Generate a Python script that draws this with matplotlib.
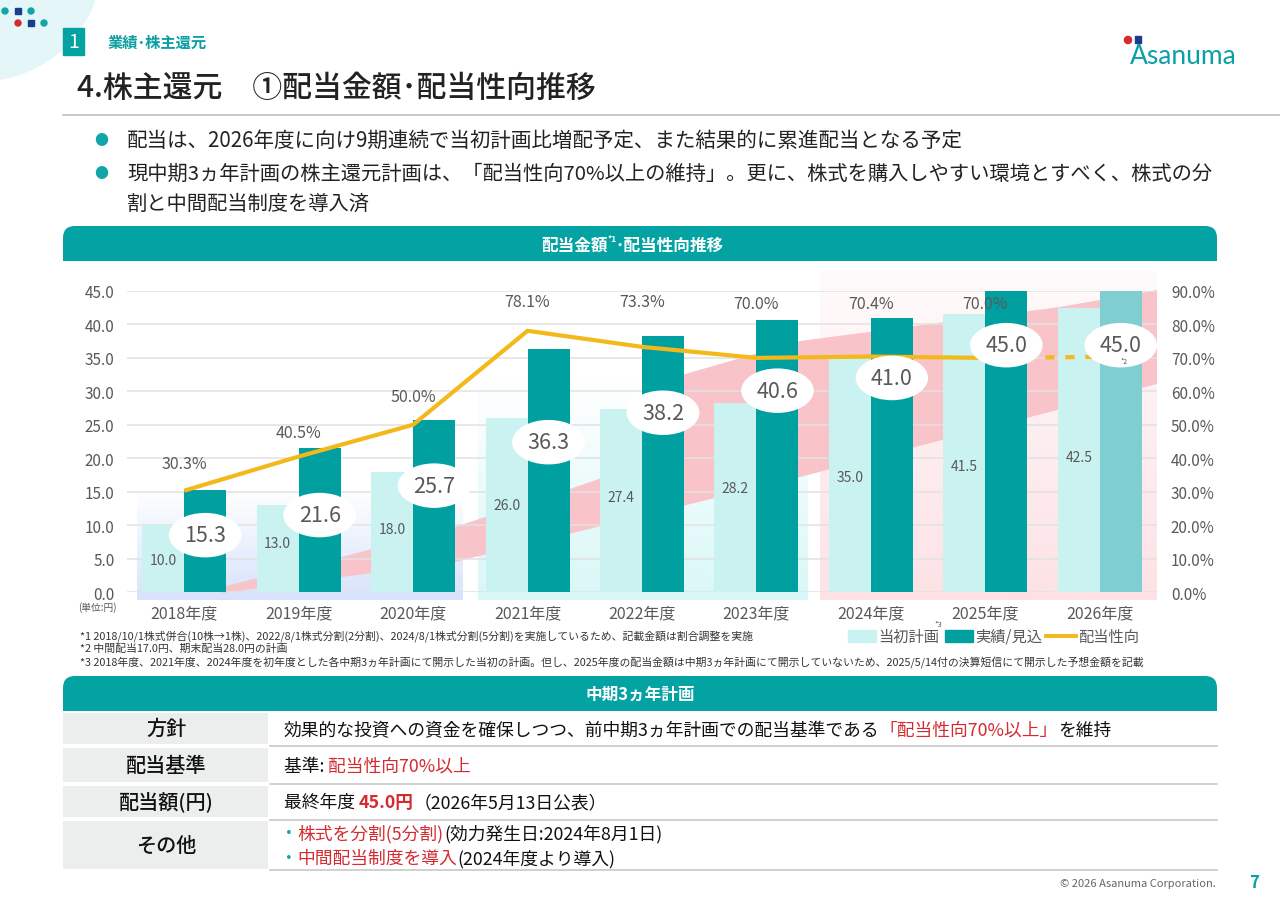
import matplotlib
matplotlib.use("Agg")
import matplotlib.pyplot as plt
import numpy as np
from matplotlib.patches import Rectangle, FancyBboxPatch, Circle, Polygon

plt.rcParams['font.family'] = ['Noto Sans CJK JP', 'DejaVu Sans']

# ---------------- data ----------------
years = ['2018年度', '2019年度', '2020年度', '2021年度', '2022年度',
         '2023年度', '2024年度', '2025年度', '2026年度']
plan = [10.0, 13.0, 18.0, 26.0, 27.4, 28.2, 35.0, 41.5, 42.5]
actual = [15.3, 21.6, 25.7, 36.3, 38.2, 40.6, 41.0, 45.0, 45.0]
payout = [30.3, 40.5, 50.0, 78.1, 73.3, 70.0, 70.4, 70.0, 70.3]
payout_labels = ['30.3%', '40.5%', '50.0%', '78.1%', '73.3%', '70.0%', '70.4%', '70.0%']
left_ticks = [0, 5, 10, 15, 20, 25, 30, 35, 40, 45]
right_ticks = [0, 10, 20, 30, 40, 50, 60, 70, 80, 90]
legend_labels = ['当初計画', '実績/見込', '配当性向']

# layout (label heights, not data)
actual_label_y = [8.5, 11.5, 15.9, 22.4, 26.8, 30.1, 32.0, 36.9, 36.9]
plan_label_y = [4.8, 7.3, 9.4, 13.0, 14.2, 15.5, 17.2, 18.8, 20.2]
payout_label_y = [38.3, 47.8, 58.6, 87.0, 87.0, 86.4, 86.4, 86.4]

TEAL = '#00a0a0'
LIGHT = '#c9f2f0'
TEAL26 = '#7fcfd2'
GOLD = '#f3b91b'
RED = '#d42a30'
GRAY = '#595959'
BAND = '#03a2a3'

fig = plt.figure(figsize=(12.8, 9.04), dpi=100)
bg = fig.add_axes([0, 0, 1, 1])
bg.set_zorder(0)
bg.axis('off')


def vgrad(x0, x1, ytop, ybot, rgb, a_top, a_bot, z=1):
    n = 200
    arr = np.zeros((n, 1, 4))
    arr[..., :3] = np.array(rgb) / 255.0
    arr[:, 0, 3] = np.linspace(a_top, a_bot, n)
    bg.imshow(arr, extent=(x0, x1, ybot, ytop), aspect='auto', zorder=z,
              interpolation='bilinear')


# ---------- header decorations ----------
bg.add_patch(Circle((-20, -40), 122, color='#e4f6f7', zorder=1))
for (cx, cy, c, sq) in [(5, 12, '#10a6a8', False), (18, 12, '#1b3d8f', True), (31, 12, '#10a6a8', False),
                        (18, 24, '#d42a30', False), (31, 24, '#1b3d8f', True), (44, 24, '#10a6a8', False)]:
    if sq:
        bg.add_patch(Rectangle((cx - 2.8, cy - 2.8), 5.6, 5.6, color=c, zorder=2))
    else:
        bg.add_patch(Circle((cx, cy), 3, color=c, zorder=2))

bg.add_patch(Rectangle((63, 29), 21, 27, color=BAND, zorder=2))
bg.text(73.5, 43, '1', color='white', fontsize=14, ha='center', va='center', zorder=3)
bg.text(108, 43, '業績･株主還元', color='#0a9fa2', fontsize=11, ha='left', va='center',
        weight='bold', zorder=3)
bg.text(77, 88, '4.株主還元　①配当金額･配当性向推移', color='#222222', fontsize=21.5,
        ha='left', va='center', weight='medium', zorder=3)
bg.plot([63, 1280], [116, 116], color='#c0c0c0', lw=1.2, zorder=2)

# logo
bg.add_patch(Circle((1128, 41), 3.6, color='#d42a30', zorder=3))
bg.add_patch(Rectangle((1134.5, 37), 6.5, 6.5, color='#1b3d8f', zorder=3))
bg.text(1183, 57, 'Asanuma', color='#0aa0a6', fontsize=19, ha='center', va='center',
        family=['Lato', 'DejaVu Sans'], zorder=3)

# bullets
for yy in (141, 174):
    bg.text(101, yy, '●', color='#10a6a8', fontsize=10, ha='center', va='center', zorder=3)
bg.text(127, 141, '配当は、2026年度に向け9期連続で当初計画比増配予定、また結果的に累進配当となる予定',
        fontsize=14.8, color='#222222', ha='left', va='center', zorder=3)
bg.text(127, 174, '現中期3ヵ年計画の株主還元計画は、「配当性向70%以上の維持」。更に、株式を購入しやすい環境とすべく、株式の分',
        fontsize=14.6, color='#222222', ha='left', va='center', zorder=3)
bg.text(127, 204, '割と中間配当制度を導入済', fontsize=14.6, color='#222222', ha='left', va='center', zorder=3)


def band(y0, h):
    bg.add_patch(FancyBboxPatch((63, y0), 1154, h, boxstyle='round,pad=0,rounding_size=12',
                                color=BAND, zorder=2, lw=0))
    bg.add_patch(Rectangle((63, y0 + h / 2), 1154, h / 2, color=BAND, zorder=2, lw=0))


band(227, 35)
t = bg.text(541, 246, '配当金額', color='white', fontsize=12, weight='bold', ha='left',
            va='center', zorder=3)
bg.annotate('*1', xy=(1, 0.62), xycoords=t, color='white', fontsize=6, weight='bold',
            ha='left', va='bottom', zorder=3)
bg.annotate('･配当性向推移', xy=(1, 0.5), xycoords=t, xytext=(6, 0), textcoords='offset points',
            color='white', fontsize=12, weight='bold', ha='left', va='center', zorder=3)

# ---------- chart background panels ----------
vgrad(137, 463, 490, 601, (205, 220, 250), 0.0, 0.8, z=1)
vgrad(478, 808, 380, 601, (215, 247, 247), 0.0, 0.95, z=1)
vgrad(820, 1157, 272, 601, (253, 224, 228), 0.15, 0.95, z=1)
arrow = Polygon([(222, 588), (342, 558), (455, 528), (570, 490), (680, 452), (682, 376),
                 (800, 342), (1060, 308), (1157, 291), (1157, 385), (800, 478), (455, 563),
                 (222, 594)], closed=True, color='#f8c3c9', lw=0, zorder=1.5)
bg.add_patch(arrow)

bg.set_xlim(0, 1280)
bg.set_ylim(904, 0)

# ---------- chart ----------
ax = fig.add_axes([127 / 1280, (904 - 593) / 904, 1030 / 1280, 301 / 904])
ax.set_zorder(1)
ax.patch.set_visible(False)
x = np.arange(len(years))
w = 0.367
ax.bar(x - w / 2, plan, w, color=LIGHT, zorder=2, lw=0)
dark_colors = [TEAL] * (len(years) - 1) + [TEAL26]
ax.bar(x + w / 2, actual, w, color=dark_colors, zorder=2, lw=0)
ax.set_xlim(-0.5, len(years) - 0.5)
ax.set_ylim(0, 45)
ax.set_yticks(left_ticks)
ax.set_yticklabels([f'{v:.1f}' for v in left_ticks], fontsize=11, color=GRAY)
ax.set_xticks(x)
ax.set_xticklabels(years, fontsize=11.5, color=GRAY)
ax.tick_params(axis='both', length=0)
ax.tick_params(axis='y', pad=9)
ax.tick_params(axis='x', pad=9)
ax.grid(axis='y', color='#e2e2e2', lw=1.1)
ax.set_axisbelow(True)
for s in ax.spines.values():
    s.set_visible(False)

for i, v in enumerate(plan):
    ax.text(x[i] - w / 2, plan_label_y[i], f'{v:.1f}', fontsize=10, color=GRAY,
            ha='center', va='center', zorder=4)

ax2 = ax.twinx()
ax2.set_zorder(2)
ax2.patch.set_visible(False)
ax2.set_ylim(0, 90)
ax2.set_yticks(right_ticks)
ax2.set_yticklabels([f'{v:.1f}%' for v in right_ticks], fontsize=11, color=GRAY)
ax2.tick_params(axis='y', length=0, pad=10)
for s in ax2.spines.values():
    s.set_visible(False)

ax2.plot(x[:8], payout[:8], color=GOLD, lw=3.0, zorder=2, solid_capstyle='butt')
ax2.plot(x[7:], payout[7:], color=GOLD, lw=3.0, ls=(0, (2.2, 2.6)), zorder=2)

for i, lab in enumerate(payout_labels):
    ax2.text(x[i], payout_label_y[i], lab, fontsize=11.5, color=GRAY, ha='center',
             va='center', zorder=6)

for i, v in enumerate(actual):
    ax2.text(x[i] + w / 2, actual_label_y[i], f'{v:.1f}', transform=ax.transData,
             fontsize=15.5, color=GRAY, ha='center', va='center', zorder=5,
             bbox=dict(boxstyle='ellipse,pad=0.22', fc='white', ec='none'))
ax2.text(x[8] + w / 2 + 0.03, 34.6, '*2', transform=ax.transData, fontsize=5, color=GRAY,
         ha='center', va='center', zorder=6)

bg.text(97, 608, '(単位:円)', fontsize=7, color=GRAY, ha='center', va='center', zorder=3)

# ---------- footnotes ----------
notes = ['*1 2018/10/1株式併合(10株→1株)、2022/8/1株式分割(2分割)、2024/8/1株式分割(5分割)を実施しているため、記載金額は割合調整を実施',
         '*2 中間配当17.0円、期末配当28.0円の計画',
         '*3 2018年度、2021年度、2024年度を初年度とした各中期3ヵ年計画にて開示した当初の計画。但し、2025年度の配当金額は中期3ヵ年計画にて開示していないため、2025/5/14付の決算短信にて開示した予想金額を記載']
for k, n in enumerate(notes):
    bg.text(80, 636 + 13 * k, n, fontsize=7.8, color='#333333', ha='left', va='center', zorder=3)

# legend
bg.add_patch(Rectangle((848, 631), 28, 12, color=LIGHT, zorder=3))
bg.text(878, 637, legend_labels[0], fontsize=11, color=GRAY, ha='left', va='center', zorder=3)
bg.text(938, 625, '*3', fontsize=5.5, color=GRAY, ha='center', va='center', zorder=3)
bg.add_patch(Rectangle((945, 631), 28, 12, color=TEAL, zorder=3))
bg.text(975, 637, legend_labels[1], fontsize=11, color=GRAY, ha='left', va='center', zorder=3)
bg.plot([1046, 1076], [637, 637], color=GOLD, lw=2.8, zorder=3)
bg.text(1078, 637, legend_labels[2], fontsize=11, color=GRAY, ha='left', va='center', zorder=3)

# ---------- table ----------
band(677, 35)
bg.text(640, 695, '中期3ヵ年計画', color='white', fontsize=12, weight='bold', ha='center',
        va='center', zorder=3)

rows = [(714, 745, '方針'), (749, 783, '配当基準'), (787, 818, '配当額(円)'), (822, 870, 'その他')]
for (y0, y1, lab) in rows:
    bg.add_patch(Rectangle((63, y0), 205, y1 - y0, color='#eceeee', zorder=2, lw=0))
    bg.text(166, (y0 + y1) / 2, lab, fontsize=14.5, color='#111111', ha='center', va='center',
            weight='medium', zorder=3)
for yy in (746.5, 784.5, 820.5, 871):
    bg.plot([270, 1217], [yy, yy], color='#c8c8c8', lw=1.2, zorder=2)


def rich(xx, yy, parts, size=12.8):
    first = True
    prev = None
    for s, c, wgt in parts:
        if first:
            prev = bg.text(xx, yy, s, fontsize=size, color=c, weight=wgt, ha='left',
                           va='center', zorder=3)
            first = False
        else:
            prev = bg.annotate(s, xy=(1, 0), xycoords=prev, fontsize=size, color=c,
                               weight=wgt, ha='left', va='bottom', zorder=3)


BLK = '#111111'
rich(284, 731, [('効果的な投資への資金を確保しつつ、前中期3ヵ年計画での配当基準である', BLK, 'normal'),
                ('「配当性向70%以上」', RED, 'normal'), ('を維持', BLK, 'normal')])
rich(284, 767, [('基準: ', BLK, 'normal'), ('配当性向70%以上', RED, 'normal')])
rich(284, 803, [('最終年度 ', BLK, 'normal'), ('45.0円', RED, 'bold'),
                ('（2026年5月13日公表）', BLK, 'normal')])
rich(280, 834, [('・', '#10a6a8', 'normal'), ('株式を分割(5分割)', RED, 'normal'),
                ('(効力発生日:2024年8月1日)', BLK, 'normal')])
rich(280, 859, [('・', '#10a6a8', 'normal'), ('中間配当制度を導入', RED, 'normal'),
                ('(2024年度より導入)', BLK, 'normal')])

# footer
bg.text(1216, 884, '© 2026 Asanuma Corporation.', fontsize=8, color='#666666', ha='right',
        va='center', zorder=3)
bg.text(1254, 883, '7', fontsize=12, color='#0a9fa2', ha='center', va='center', weight='bold',
        zorder=3)

fig.savefig('out.png', dpi=100)
